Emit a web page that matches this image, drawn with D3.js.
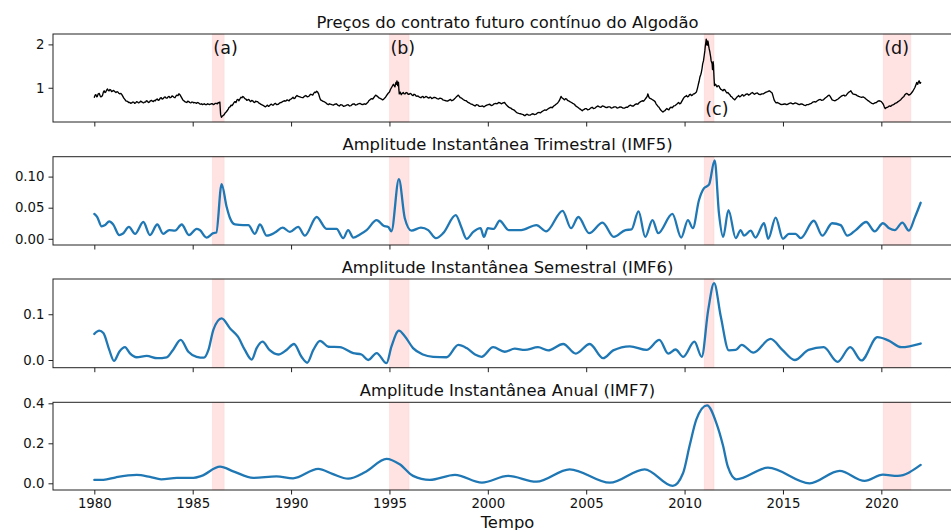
<!DOCTYPE html>
<html>
<head>
<meta charset="utf-8">
<script src="https://cdn.jsdelivr.net/npm/d3@7/dist/d3.min.js"></script>
<style>
  html, body { margin: 0; padding: 0; background: #fff; }
  svg { display: block; font-family: "DejaVu Sans", sans-serif; }
</style>
</head>
<body>
<svg id="chart" width="951" height="530"></svg>
<script>
// Cotton continuous futures price and instantaneous amplitudes of IMF5–IMF7

const panelTitles = [
  "Preços do contrato futuro contínuo do Algodão",
  "Amplitude Instantânea Trimestral (IMF5)",
  "Amplitude Instantânea Semestral (IMF6)",
  "Amplitude Instantânea Anual (IMF7)"
];

const xTicks = [1980, 1985, 1990, 1995, 2000, 2005, 2010, 2015, 2020];
const yTicksPrice = [1, 2];
const yTicksImf5 = [0.00, 0.05, 0.10];
const yTicksImf6 = [0.0, 0.1];
const yTicksImf7 = [0.0, 0.2, 0.4];

// highlighted episodes [start, end, label]
const episodes = [
  [1986.0, 1986.6, "(a)"],
  [1995.0, 1996.0, "(b)"],
  [2011.0, 2011.5, "(c)"],
  [2020.1, 2021.5, "(d)"]
];

// [year, price]
const priceSeries = [
  [1980.0,0.78],[1980.04,0.83],[1980.08,0.84],[1980.12,0.79],[1980.15,0.80],[1980.2,0.86],[1980.25,0.87],[1980.29,0.82],[1980.33,0.79],
  [1980.38,0.80],[1980.42,0.83],[1980.46,0.90],[1980.5,0.93],[1980.54,0.89],[1980.58,0.90],[1980.63,0.95],[1980.67,0.97],[1980.71,0.94],
  [1980.75,0.93],[1980.79,0.96],[1980.83,0.95],[1980.88,0.91],[1980.92,0.92],[1980.96,0.94],[1981.0,0.93],[1981.05,0.91],[1981.1,0.89],
  [1981.15,0.91],[1981.2,0.90],[1981.25,0.87],[1981.3,0.86],[1981.35,0.87],[1981.4,0.84],[1981.45,0.80],[1981.5,0.76],[1981.55,0.73],
  [1981.6,0.70],[1981.65,0.69],[1981.7,0.68],[1981.75,0.66],[1981.8,0.66],[1981.85,0.64],[1981.9,0.65],[1981.95,0.67],[1982.0,0.67],
  [1982.05,0.64],[1982.1,0.65],[1982.15,0.68],[1982.2,0.67],[1982.25,0.65],[1982.3,0.66],[1982.35,0.69],[1982.4,0.68],[1982.45,0.66],
  [1982.5,0.65],[1982.55,0.67],[1982.6,0.67],[1982.65,0.70],[1982.7,0.69],[1982.75,0.66],[1982.8,0.67],[1982.85,0.70],[1982.9,0.71],
  [1982.95,0.69],[1983.0,0.68],[1983.05,0.71],[1983.1,0.70],[1983.15,0.73],[1983.2,0.74],[1983.25,0.71],[1983.3,0.72],[1983.35,0.76],
  [1983.4,0.77],[1983.45,0.74],[1983.5,0.75],[1983.55,0.78],[1983.6,0.79],[1983.65,0.76],[1983.7,0.76],[1983.75,0.79],[1983.8,0.80],
  [1983.85,0.77],[1983.9,0.78],[1983.95,0.81],[1984.0,0.80],[1984.05,0.78],[1984.1,0.77],[1984.15,0.81],[1984.2,0.83],[1984.25,0.82],
  [1984.3,0.86],[1984.35,0.84],[1984.4,0.80],[1984.45,0.76],[1984.5,0.72],[1984.55,0.70],[1984.6,0.68],[1984.65,0.67],[1984.7,0.66],
  [1984.75,0.69],[1984.8,0.68],[1984.85,0.66],[1984.9,0.65],[1984.95,0.67],[1985.0,0.67],[1985.05,0.65],[1985.1,0.66],[1985.15,0.65],
  [1985.2,0.64],[1985.25,0.66],[1985.3,0.65],[1985.35,0.63],[1985.4,0.62],[1985.45,0.63],[1985.5,0.61],[1985.55,0.62],[1985.6,0.63],
  [1985.65,0.61],[1985.7,0.61],[1985.75,0.63],[1985.8,0.62],[1985.85,0.61],[1985.9,0.62],[1985.95,0.63],[1986.0,0.63],[1986.05,0.61],
  [1986.1,0.62],[1986.15,0.64],[1986.2,0.64],[1986.25,0.63],[1986.3,0.66],[1986.35,0.65],[1986.38,0.67],[1986.4,0.52],[1986.42,0.38],
  [1986.46,0.32],[1986.5,0.34],[1986.55,0.36],[1986.6,0.38],[1986.65,0.42],[1986.7,0.44],[1986.75,0.47],[1986.8,0.50],[1986.85,0.55],
  [1986.9,0.56],[1986.95,0.60],[1987.0,0.59],[1987.05,0.62],[1987.1,0.66],[1987.15,0.68],[1987.2,0.66],[1987.25,0.72],[1987.3,0.73],
  [1987.35,0.70],[1987.4,0.74],[1987.45,0.78],[1987.5,0.77],[1987.55,0.80],[1987.6,0.78],[1987.65,0.75],[1987.7,0.74],[1987.75,0.71],
  [1987.8,0.72],[1987.85,0.73],[1987.9,0.70],[1987.95,0.68],[1988.0,0.71],[1988.05,0.70],[1988.1,0.67],[1988.15,0.66],[1988.2,0.69],
  [1988.25,0.68],[1988.3,0.68],[1988.35,0.65],[1988.4,0.64],[1988.45,0.62],[1988.5,0.61],[1988.55,0.60],[1988.6,0.59],[1988.65,0.57],
  [1988.7,0.56],[1988.75,0.58],[1988.8,0.60],[1988.85,0.57],[1988.9,0.58],[1988.95,0.61],[1989.0,0.62],[1989.05,0.60],[1989.1,0.60],
  [1989.15,0.63],[1989.2,0.64],[1989.27,0.61],[1989.35,0.62],[1989.42,0.65],[1989.5,0.66],[1989.57,0.68],[1989.65,0.70],[1989.72,0.69],
  [1989.8,0.72],[1989.85,0.71],[1989.9,0.70],[1989.95,0.73],[1990.0,0.74],[1990.05,0.76],[1990.1,0.78],[1990.15,0.75],[1990.2,0.76],
  [1990.25,0.80],[1990.3,0.82],[1990.37,0.80],[1990.45,0.79],[1990.52,0.78],[1990.6,0.77],[1990.67,0.80],[1990.75,0.82],[1990.82,0.79],
  [1990.9,0.80],[1990.95,0.83],[1991.0,0.85],[1991.05,0.84],[1991.1,0.83],[1991.15,0.87],[1991.2,0.90],[1991.25,0.89],[1991.3,0.92],
  [1991.35,0.90],[1991.4,0.86],[1991.45,0.78],[1991.5,0.72],[1991.55,0.71],[1991.6,0.69],[1991.67,0.68],[1991.75,0.66],[1991.82,0.63],
  [1991.9,0.61],[1991.95,0.63],[1992.0,0.62],[1992.07,0.61],[1992.15,0.60],[1992.22,0.62],[1992.3,0.63],[1992.37,0.60],[1992.45,0.58],
  [1992.52,0.61],[1992.6,0.60],[1992.67,0.57],[1992.75,0.58],[1992.82,0.60],[1992.9,0.61],[1992.97,0.58],[1993.05,0.59],[1993.12,0.62],
  [1993.2,0.63],[1993.27,0.60],[1993.35,0.61],[1993.42,0.63],[1993.5,0.64],[1993.57,0.62],[1993.65,0.61],[1993.72,0.63],[1993.8,0.62],
  [1993.85,0.64],[1993.9,0.66],[1993.95,0.70],[1994.0,0.72],[1994.05,0.74],[1994.1,0.75],[1994.15,0.74],[1994.2,0.77],[1994.25,0.80],
  [1994.3,0.83],[1994.35,0.81],[1994.4,0.80],[1994.45,0.77],[1994.5,0.76],[1994.55,0.75],[1994.6,0.74],[1994.65,0.72],[1994.7,0.73],
  [1994.75,0.76],[1994.8,0.78],[1994.85,0.82],[1994.9,0.85],[1994.95,0.88],[1995.0,0.90],[1995.05,0.96],[1995.1,1.00],[1995.15,1.04],
  [1995.2,1.08],[1995.24,1.05],[1995.28,1.02],[1995.31,1.09],[1995.33,1.12],[1995.36,1.08],[1995.38,1.16],[1995.4,1.10],[1995.42,1.05],
  [1995.44,1.13],[1995.46,1.12],[1995.48,0.95],[1995.5,0.86],[1995.53,0.88],[1995.55,0.90],[1995.58,0.86],[1995.6,0.84],[1995.65,0.87],
  [1995.7,0.89],[1995.75,0.86],[1995.8,0.86],[1995.85,0.89],[1995.9,0.88],[1995.95,0.85],[1996.0,0.85],[1996.05,0.87],[1996.1,0.86],
  [1996.15,0.83],[1996.2,0.82],[1996.25,0.85],[1996.3,0.84],[1996.35,0.81],[1996.4,0.80],[1996.45,0.81],[1996.5,0.79],[1996.55,0.78],
  [1996.6,0.77],[1996.65,0.79],[1996.7,0.80],[1996.75,0.77],[1996.8,0.78],[1996.85,0.80],[1996.9,0.79],[1996.95,0.77],[1997.0,0.76],
  [1997.05,0.78],[1997.1,0.78],[1997.15,0.75],[1997.2,0.76],[1997.27,0.78],[1997.35,0.77],[1997.42,0.75],[1997.5,0.74],[1997.57,0.76],
  [1997.65,0.75],[1997.72,0.72],[1997.8,0.71],[1997.87,0.70],[1997.95,0.69],[1998.02,0.71],[1998.1,0.73],[1998.17,0.70],[1998.25,0.72],
  [1998.32,0.75],[1998.4,0.79],[1998.45,0.81],[1998.5,0.83],[1998.55,0.80],[1998.6,0.77],[1998.67,0.76],[1998.75,0.73],[1998.82,0.71],
  [1998.9,0.70],[1998.97,0.67],[1999.05,0.65],[1999.12,0.63],[1999.2,0.62],[1999.27,0.60],[1999.35,0.58],[1999.42,0.61],[1999.5,0.60],
  [1999.57,0.57],[1999.65,0.57],[1999.72,0.58],[1999.8,0.56],[1999.87,0.58],[1999.95,0.60],[2000.02,0.61],[2000.1,0.62],[2000.17,0.59],
  [2000.25,0.60],[2000.32,0.63],[2000.4,0.64],[2000.47,0.63],[2000.55,0.66],[2000.62,0.65],[2000.7,0.63],[2000.77,0.65],[2000.85,0.66],
  [2000.9,0.63],[2000.95,0.60],[2001.02,0.57],[2001.1,0.54],[2001.17,0.53],[2001.25,0.50],[2001.32,0.49],[2001.4,0.46],[2001.45,0.43],
  [2001.5,0.42],[2001.57,0.41],[2001.65,0.40],[2001.72,0.39],[2001.8,0.38],[2001.85,0.36],[2001.9,0.36],[2001.95,0.38],[2002.0,0.39],
  [2002.07,0.37],[2002.15,0.37],[2002.22,0.39],[2002.3,0.40],[2002.37,0.38],[2002.45,0.39],[2002.52,0.42],[2002.6,0.43],[2002.67,0.42],
  [2002.75,0.45],[2002.82,0.47],[2002.9,0.49],[2002.97,0.48],[2003.05,0.51],[2003.12,0.53],[2003.2,0.55],[2003.27,0.54],[2003.35,0.58],
  [2003.42,0.60],[2003.5,0.63],[2003.55,0.65],[2003.6,0.68],[2003.65,0.72],[2003.72,0.80],[2003.76,0.77],[2003.8,0.76],[2003.85,0.74],
  [2003.9,0.72],[2003.95,0.75],[2004.0,0.74],[2004.05,0.71],[2004.1,0.70],[2004.17,0.68],[2004.25,0.66],[2004.32,0.64],[2004.4,0.62],
  [2004.45,0.59],[2004.5,0.57],[2004.57,0.55],[2004.65,0.52],[2004.72,0.50],[2004.8,0.47],[2004.85,0.49],[2004.9,0.50],[2004.95,0.52],
  [2005.0,0.52],[2005.07,0.49],[2005.15,0.50],[2005.22,0.53],[2005.3,0.55],[2005.37,0.52],[2005.45,0.53],[2005.52,0.56],[2005.6,0.58],
  [2005.67,0.56],[2005.75,0.55],[2005.82,0.58],[2005.9,0.57],[2005.97,0.55],[2006.05,0.54],[2006.12,0.56],[2006.2,0.56],[2006.27,0.53],
  [2006.35,0.54],[2006.42,0.56],[2006.5,0.56],[2006.57,0.53],[2006.65,0.54],[2006.72,0.56],[2006.8,0.55],[2006.87,0.53],[2006.95,0.53],
  [2007.02,0.55],[2007.1,0.55],[2007.17,0.58],[2007.25,0.60],[2007.32,0.58],[2007.4,0.58],[2007.47,0.61],[2007.55,0.63],[2007.62,0.62],
  [2007.7,0.66],[2007.77,0.68],[2007.85,0.70],[2007.92,0.69],[2008.0,0.74],[2008.05,0.77],[2008.1,0.80],[2008.13,0.86],[2008.15,0.84],
  [2008.18,0.79],[2008.22,0.76],[2008.28,0.75],[2008.35,0.73],[2008.42,0.71],[2008.5,0.68],[2008.55,0.63],[2008.6,0.60],[2008.65,0.57],
  [2008.7,0.55],[2008.75,0.51],[2008.8,0.48],[2008.85,0.46],[2008.9,0.44],[2008.95,0.46],[2009.0,0.47],[2009.05,0.50],[2009.1,0.52],
  [2009.15,0.50],[2009.2,0.49],[2009.25,0.53],[2009.3,0.55],[2009.37,0.54],[2009.45,0.58],[2009.52,0.59],[2009.6,0.62],[2009.65,0.64],
  [2009.7,0.66],[2009.75,0.63],[2009.8,0.64],[2009.85,0.68],[2009.9,0.72],[2009.95,0.76],[2010.0,0.79],[2010.05,0.80],[2010.1,0.82],
  [2010.15,0.79],[2010.2,0.80],[2010.25,0.84],[2010.3,0.85],[2010.35,0.82],[2010.4,0.83],[2010.45,0.86],[2010.5,0.86],[2010.55,0.88],
  [2010.6,0.90],[2010.65,0.98],[2010.7,1.08],[2010.74,1.15],[2010.78,1.25],[2010.82,1.30],[2010.85,1.35],[2010.89,1.45],[2010.92,1.55],
  [2010.96,1.62],[2011.0,1.75],[2011.03,1.85],[2011.05,1.95],[2011.08,2.05],[2011.1,2.12],[2011.12,2.05],[2011.15,1.98],[2011.18,2.08],
  [2011.2,2.05],[2011.23,1.95],[2011.25,1.90],[2011.28,1.84],[2011.3,1.78],[2011.33,1.70],[2011.35,1.62],[2011.38,1.58],[2011.4,1.55],
  [2011.42,1.42],[2011.44,1.55],[2011.45,1.60],[2011.47,1.52],[2011.48,1.40],[2011.5,1.20],[2011.52,1.05],[2011.55,1.07],[2011.58,1.08],
  [2011.62,1.04],[2011.65,1.02],[2011.7,1.05],[2011.75,1.04],[2011.8,0.99],[2011.85,0.96],[2011.9,0.95],[2011.95,0.93],[2012.0,0.96],
  [2012.05,0.95],[2012.1,0.91],[2012.15,0.88],[2012.2,0.89],[2012.25,0.86],[2012.3,0.84],[2012.35,0.80],[2012.4,0.79],[2012.45,0.76],
  [2012.5,0.74],[2012.55,0.72],[2012.6,0.75],[2012.65,0.78],[2012.7,0.80],[2012.75,0.82],[2012.8,0.79],[2012.85,0.80],[2012.9,0.83],
  [2012.95,0.84],[2013.0,0.81],[2013.05,0.82],[2013.12,0.85],[2013.2,0.86],[2013.25,0.83],[2013.3,0.84],[2013.37,0.87],[2013.45,0.89],
  [2013.5,0.87],[2013.55,0.85],[2013.62,0.87],[2013.7,0.88],[2013.77,0.85],[2013.85,0.84],[2013.92,0.86],[2014.0,0.86],[2014.07,0.88],
  [2014.15,0.90],[2014.22,0.91],[2014.3,0.93],[2014.37,0.91],[2014.45,0.88],[2014.5,0.80],[2014.55,0.72],[2014.6,0.68],[2014.65,0.65],
  [2014.72,0.66],[2014.8,0.64],[2014.87,0.62],[2014.95,0.61],[2015.02,0.62],[2015.1,0.63],[2015.17,0.61],[2015.25,0.62],[2015.32,0.64],
  [2015.4,0.65],[2015.47,0.63],[2015.55,0.63],[2015.62,0.65],[2015.7,0.64],[2015.77,0.62],[2015.85,0.61],[2015.92,0.63],[2016.0,0.62],
  [2016.07,0.60],[2016.15,0.59],[2016.22,0.61],[2016.3,0.61],[2016.37,0.63],[2016.45,0.64],[2016.52,0.67],[2016.6,0.68],[2016.67,0.67],
  [2016.75,0.70],[2016.82,0.72],[2016.9,0.73],[2016.97,0.71],[2017.05,0.72],[2017.12,0.75],[2017.2,0.78],[2017.25,0.80],[2017.3,0.82],
  [2017.35,0.83],[2017.4,0.80],[2017.45,0.76],[2017.5,0.72],[2017.57,0.71],[2017.65,0.70],[2017.72,0.72],[2017.8,0.74],[2017.87,0.77],
  [2017.95,0.80],[2018.02,0.82],[2018.1,0.83],[2018.15,0.81],[2018.2,0.82],[2018.27,0.86],[2018.35,0.90],[2018.4,0.91],[2018.45,0.93],
  [2018.5,0.89],[2018.55,0.86],[2018.62,0.85],[2018.7,0.84],[2018.77,0.82],[2018.85,0.80],[2018.92,0.79],[2019.0,0.78],[2019.07,0.79],
  [2019.15,0.77],[2019.22,0.74],[2019.3,0.71],[2019.37,0.69],[2019.45,0.66],[2019.52,0.64],[2019.6,0.63],[2019.67,0.65],[2019.75,0.66],
  [2019.82,0.69],[2019.9,0.70],[2019.95,0.69],[2020.0,0.68],[2020.05,0.65],[2020.1,0.62],[2020.15,0.56],[2020.2,0.52],[2020.25,0.54],
  [2020.3,0.55],[2020.35,0.56],[2020.4,0.58],[2020.47,0.57],[2020.55,0.60],[2020.62,0.61],[2020.7,0.64],[2020.77,0.65],[2020.85,0.68],
  [2020.92,0.70],[2021.0,0.73],[2021.05,0.76],[2021.1,0.78],[2021.15,0.80],[2021.2,0.84],[2021.25,0.86],[2021.3,0.87],[2021.35,0.85],
  [2021.4,0.83],[2021.45,0.84],[2021.5,0.86],[2021.55,0.89],[2021.6,0.92],[2021.65,0.96],[2021.7,1.00],[2021.75,1.06],[2021.8,1.12],
  [2021.83,1.09],[2021.85,1.08],[2021.88,1.13],[2021.92,1.16],[2021.95,1.12],[2021.97,1.10],[2022.0,1.12]
];

// [year, amplitude] — quarterly component
const imf5Series = [
  [1980.0,0.040],[1980.15,0.035],[1980.37,0.020],[1980.55,0.022],[1980.76,0.028],[1980.96,0.023],[1981.27,0.006],[1981.44,0.008],
  [1981.76,0.019],[1982.07,0.008],[1982.49,0.027],[1982.83,0.006],[1983.2,0.023],[1983.5,0.008],[1983.81,0.014],[1984.1,0.013],
  [1984.44,0.023],[1984.81,0.006],[1985.2,0.016],[1985.36,0.014],[1985.7,0.002],[1986.05,0.009],[1986.2,0.010],[1986.47,0.088],
  [1986.72,0.052],[1986.9,0.033],[1987.15,0.023],[1987.57,0.022],[1987.83,0.022],[1988.16,0.008],[1988.42,0.023],[1988.76,0.005],
  [1989.18,0.010],[1989.57,0.018],[1989.94,0.011],[1990.36,0.019],[1990.7,0.005],[1991.3,0.035],[1991.8,0.016],[1992.31,0.016],
  [1992.65,0.001],[1992.9,0.014],[1993.16,0.002],[1993.5,0.007],[1993.84,0.014],[1994.35,0.030],[1994.7,0.021],[1994.94,0.019],
  [1995.1,0.012],[1995.48,0.096],[1995.78,0.033],[1996.12,0.013],[1996.6,0.018],[1996.97,0.014],[1997.36,0.001],[1997.73,0.009],
  [1998.37,0.038],[1998.65,0.019],[1998.92,0.000],[1999.26,0.011],[1999.63,0.017],[1999.8,0.003],[2000.0,0.017],[2000.3,0.016],
  [2000.6,0.029],[2001.06,0.014],[2001.7,0.014],[2002.47,0.022],[2002.97,0.012],[2003.8,0.045],[2004.23,0.017],[2004.6,0.035],
  [2005.15,0.009],[2005.83,0.026],[2006.4,0.003],[2007.0,0.014],[2007.3,0.015],[2007.66,0.044],[2008.0,0.003],[2008.37,0.030],
  [2008.66,0.009],[2009.38,0.040],[2009.83,0.002],[2010.17,0.030],[2010.42,0.017],[2010.73,0.062],[2010.98,0.081],[2011.24,0.087],
  [2011.53,0.126],[2011.75,0.040],[2011.96,0.003],[2012.23,0.046],[2012.6,0.001],[2012.85,0.014],[2013.02,0.005],[2013.36,0.013],
  [2013.6,0.002],[2014.04,0.025],[2014.25,0.000],[2014.63,0.034],[2015.0,0.000],[2015.3,0.008],[2015.64,0.008],[2015.9,0.001],
  [2016.57,0.029],[2017.0,0.005],[2017.5,0.025],[2017.93,0.022],[2018.27,0.005],[2018.7,0.014],[2019.23,0.027],[2019.66,0.012],
  [2020.08,0.025],[2020.4,0.017],[2020.68,0.014],[2021.07,0.026],[2021.4,0.013],[2021.7,0.034],[2022.0,0.058]
];

// [year, amplitude] — semiannual component
const imf6Series = [
  [1980.0,0.057],[1980.25,0.064],[1980.46,0.059],[1980.76,0.022],[1981.0,-0.002],[1981.27,0.018],[1981.56,0.028],[1981.8,0.015],
  [1982.15,0.006],[1982.66,0.009],[1983.2,0.004],[1983.68,0.006],[1984.0,0.022],[1984.39,0.044],[1984.78,0.018],[1985.2,0.007],
  [1985.57,0.005],[1985.8,0.022],[1986.05,0.066],[1986.47,0.091],[1986.9,0.069],[1987.3,0.051],[1987.65,0.022],[1988.0,0.001],
  [1988.25,0.026],[1988.55,0.040],[1988.9,0.022],[1989.35,0.012],[1989.77,0.022],[1990.15,0.035],[1990.53,0.007],[1990.82,-0.006],
  [1991.13,0.022],[1991.47,0.042],[1991.9,0.029],[1992.48,0.028],[1993.16,0.015],[1993.58,0.012],[1993.92,0.000],[1994.35,0.015],
  [1994.85,-0.007],[1995.1,0.029],[1995.48,0.064],[1995.78,0.052],[1996.2,0.026],[1996.7,0.012],[1997.22,0.007],[1997.9,0.006],
  [1998.5,0.033],[1998.92,0.026],[1999.35,0.012],[1999.68,0.007],[2000.27,0.028],[2000.86,0.018],[2001.37,0.025],[2001.88,0.022],
  [2002.55,0.028],[2003.06,0.021],[2003.83,0.035],[2004.47,0.014],[2005.18,0.035],[2005.86,0.004],[2006.37,0.021],[2007.22,0.030],
  [2008.07,0.022],[2008.72,0.044],[2009.17,0.014],[2009.54,0.023],[2009.93,0.007],[2010.5,0.040],[2010.87,0.007],[2011.2,0.109],
  [2011.5,0.168],[2011.84,0.095],[2012.25,0.021],[2012.6,0.022],[2012.9,0.033],[2013.5,0.016],[2014.37,0.046],[2014.97,0.022],
  [2015.6,0.000],[2016.3,0.022],[2017.07,0.028],[2017.78,-0.004],[2018.42,0.028],[2018.99,-0.001],[2019.8,0.050],[2020.35,0.043],
  [2021.02,0.028],[2022.0,0.036]
];

// [year, amplitude] — annual component
const imf7Series = [
  [1980.0,0.017],[1980.46,0.017],[1981.1,0.030],[1982.15,0.042],[1982.83,0.032],[1983.4,0.020],[1984.2,0.027],[1985.03,0.027],
  [1985.45,0.037],[1986.39,0.083],[1987.06,0.060],[1988.08,0.027],[1989.26,0.035],[1990.1,0.025],[1991.38,0.072],[1992.1,0.047],
  [1992.9,0.023],[1993.8,0.058],[1994.85,0.122],[1995.52,0.095],[1996.2,0.037],[1997.05,0.017],[1998.33,0.042],[1999.7,0.003],
  [2001.03,0.037],[2002.47,0.008],[2004.16,0.070],[2006.2,0.003],[2007.97,0.070],[2009.4,-0.013],[2009.92,0.050],[2010.26,0.190],
  [2010.6,0.320],[2011.14,0.390],[2011.62,0.300],[2011.95,0.190],[2012.2,0.083],[2012.63,0.020],[2014.24,0.078],[2016.36,0.000],
  [2017.88,0.062],[2019.15,0.012],[2020.08,0.043],[2020.83,0.037],[2022.0,0.092]
];

const W = 951, H = 530;
const left = 53, right = 962;
const xDomain = [1977.9, 2024.1];

const panels = [
  { top: 34,    bottom: 122,   domain: [0.21, 2.24],      ticks: yTicksPrice, fmt: d3.format("d"),   data: priceSeries, color: "#000000", width: 1.35, curve: d3.curveLinear },
  { top: 156.7, bottom: 245,   domain: [-0.010, 0.132],   ticks: yTicksImf5,  fmt: d3.format(".2f"), data: imf5Series,  color: "#1f77b4", width: 2.3, curve: d3.curveMonotoneX },
  { top: 279,   bottom: 367.7, domain: [-0.0168, 0.177],  ticks: yTicksImf6,  fmt: d3.format(".1f"), data: imf6Series,  color: "#1f77b4", width: 2.3, curve: d3.curveMonotoneX },
  { top: 402.3, bottom: 490,   domain: [-0.0335, 0.405],  ticks: yTicksImf7,  fmt: d3.format(".1f"), data: imf7Series,  color: "#1f77b4", width: 2.3, curve: d3.curveMonotoneX }
];

const svg = d3.select("#chart");
const x = d3.scaleLinear().domain(xDomain).range([left, right]);

panels.forEach((p, i) => {
  const y = d3.scaleLinear().domain(p.domain).range([p.bottom, p.top]);
  const g = svg.append("g");

  const clipId = "clip" + i;
  g.append("clipPath").attr("id", clipId).append("rect")
    .attr("x", left).attr("y", p.top).attr("width", right - left).attr("height", p.bottom - p.top);

  // shaded episodes
  g.append("g").selectAll("rect").data(episodes).join("rect")
    .attr("x", d => x(d[0]))
    .attr("width", d => x(d[1]) - x(d[0]))
    .attr("y", p.top).attr("height", p.bottom - p.top)
    .attr("fill", "rgba(255,0,0,0.11)")
    .attr("stroke", "rgba(255,0,0,0.06)")
    .attr("stroke-width", 1);

  // series line
  const line = d3.line().x(d => x(d[0])).y(d => y(d[1])).curve(p.curve);
  g.append("path")
    .datum(p.data)
    .attr("clip-path", `url(#${clipId})`)
    .attr("fill", "none")
    .attr("stroke", p.color)
    .attr("stroke-width", p.width)
    .attr("stroke-linejoin", "round")
    .attr("stroke-linecap", "round")
    .attr("d", line);

  // axes
  const xAxis = d3.axisBottom(x).tickValues(xTicks).tickSize(4.5).tickPadding(4)
    .tickFormat(i === panels.length - 1 ? d3.format("d") : () => "");
  const xg = g.append("g").attr("transform", `translate(0,${p.bottom})`).call(xAxis);
  const yAxis = d3.axisLeft(y).tickValues(p.ticks).tickSize(4.5).tickPadding(4).tickFormat(p.fmt);
  const yg = g.append("g").attr("transform", `translate(${left},0)`).call(yAxis);
  [xg, yg].forEach(a => {
    a.select(".domain").remove();
    a.selectAll(".tick line").attr("stroke", "#222").attr("stroke-width", 1);
    a.selectAll(".tick text").attr("fill", "#111").style("font-size", "13.3px")
      .style("font-family", '"DejaVu Sans", sans-serif');
  });

  // frame
  g.append("rect")
    .attr("x", left).attr("y", p.top)
    .attr("width", right - left).attr("height", p.bottom - p.top)
    .attr("fill", "none").attr("stroke", "#222").attr("stroke-width", 1);

  // title
  g.append("text")
    .attr("x", (left + right) / 2).attr("y", p.top - 6.5)
    .attr("text-anchor", "middle")
    .attr("fill", "#111")
    .style("font-size", "16.4px")
    .text(panelTitles[i]);

  // episode labels on the price panel
  if (i === 0) {
    g.append("g").selectAll("text").data(episodes).join("text")
      .attr("x", d => x(d[0]) + 1)
      .attr("y", d => d[2] === "(c)" ? p.bottom - 7.5 : p.top + 19.5)
      .attr("fill", "#111")
      .style("font-size", "17.5px")
      .text(d => d[2]);
  }
});

// x-axis label
svg.append("text")
  .attr("x", (left + right) / 2).attr("y", 527.5)
  .attr("text-anchor", "middle")
  .attr("fill", "#111")
  .style("font-size", "16.4px")
  .text("Tempo");
</script>
</body>
</html>
